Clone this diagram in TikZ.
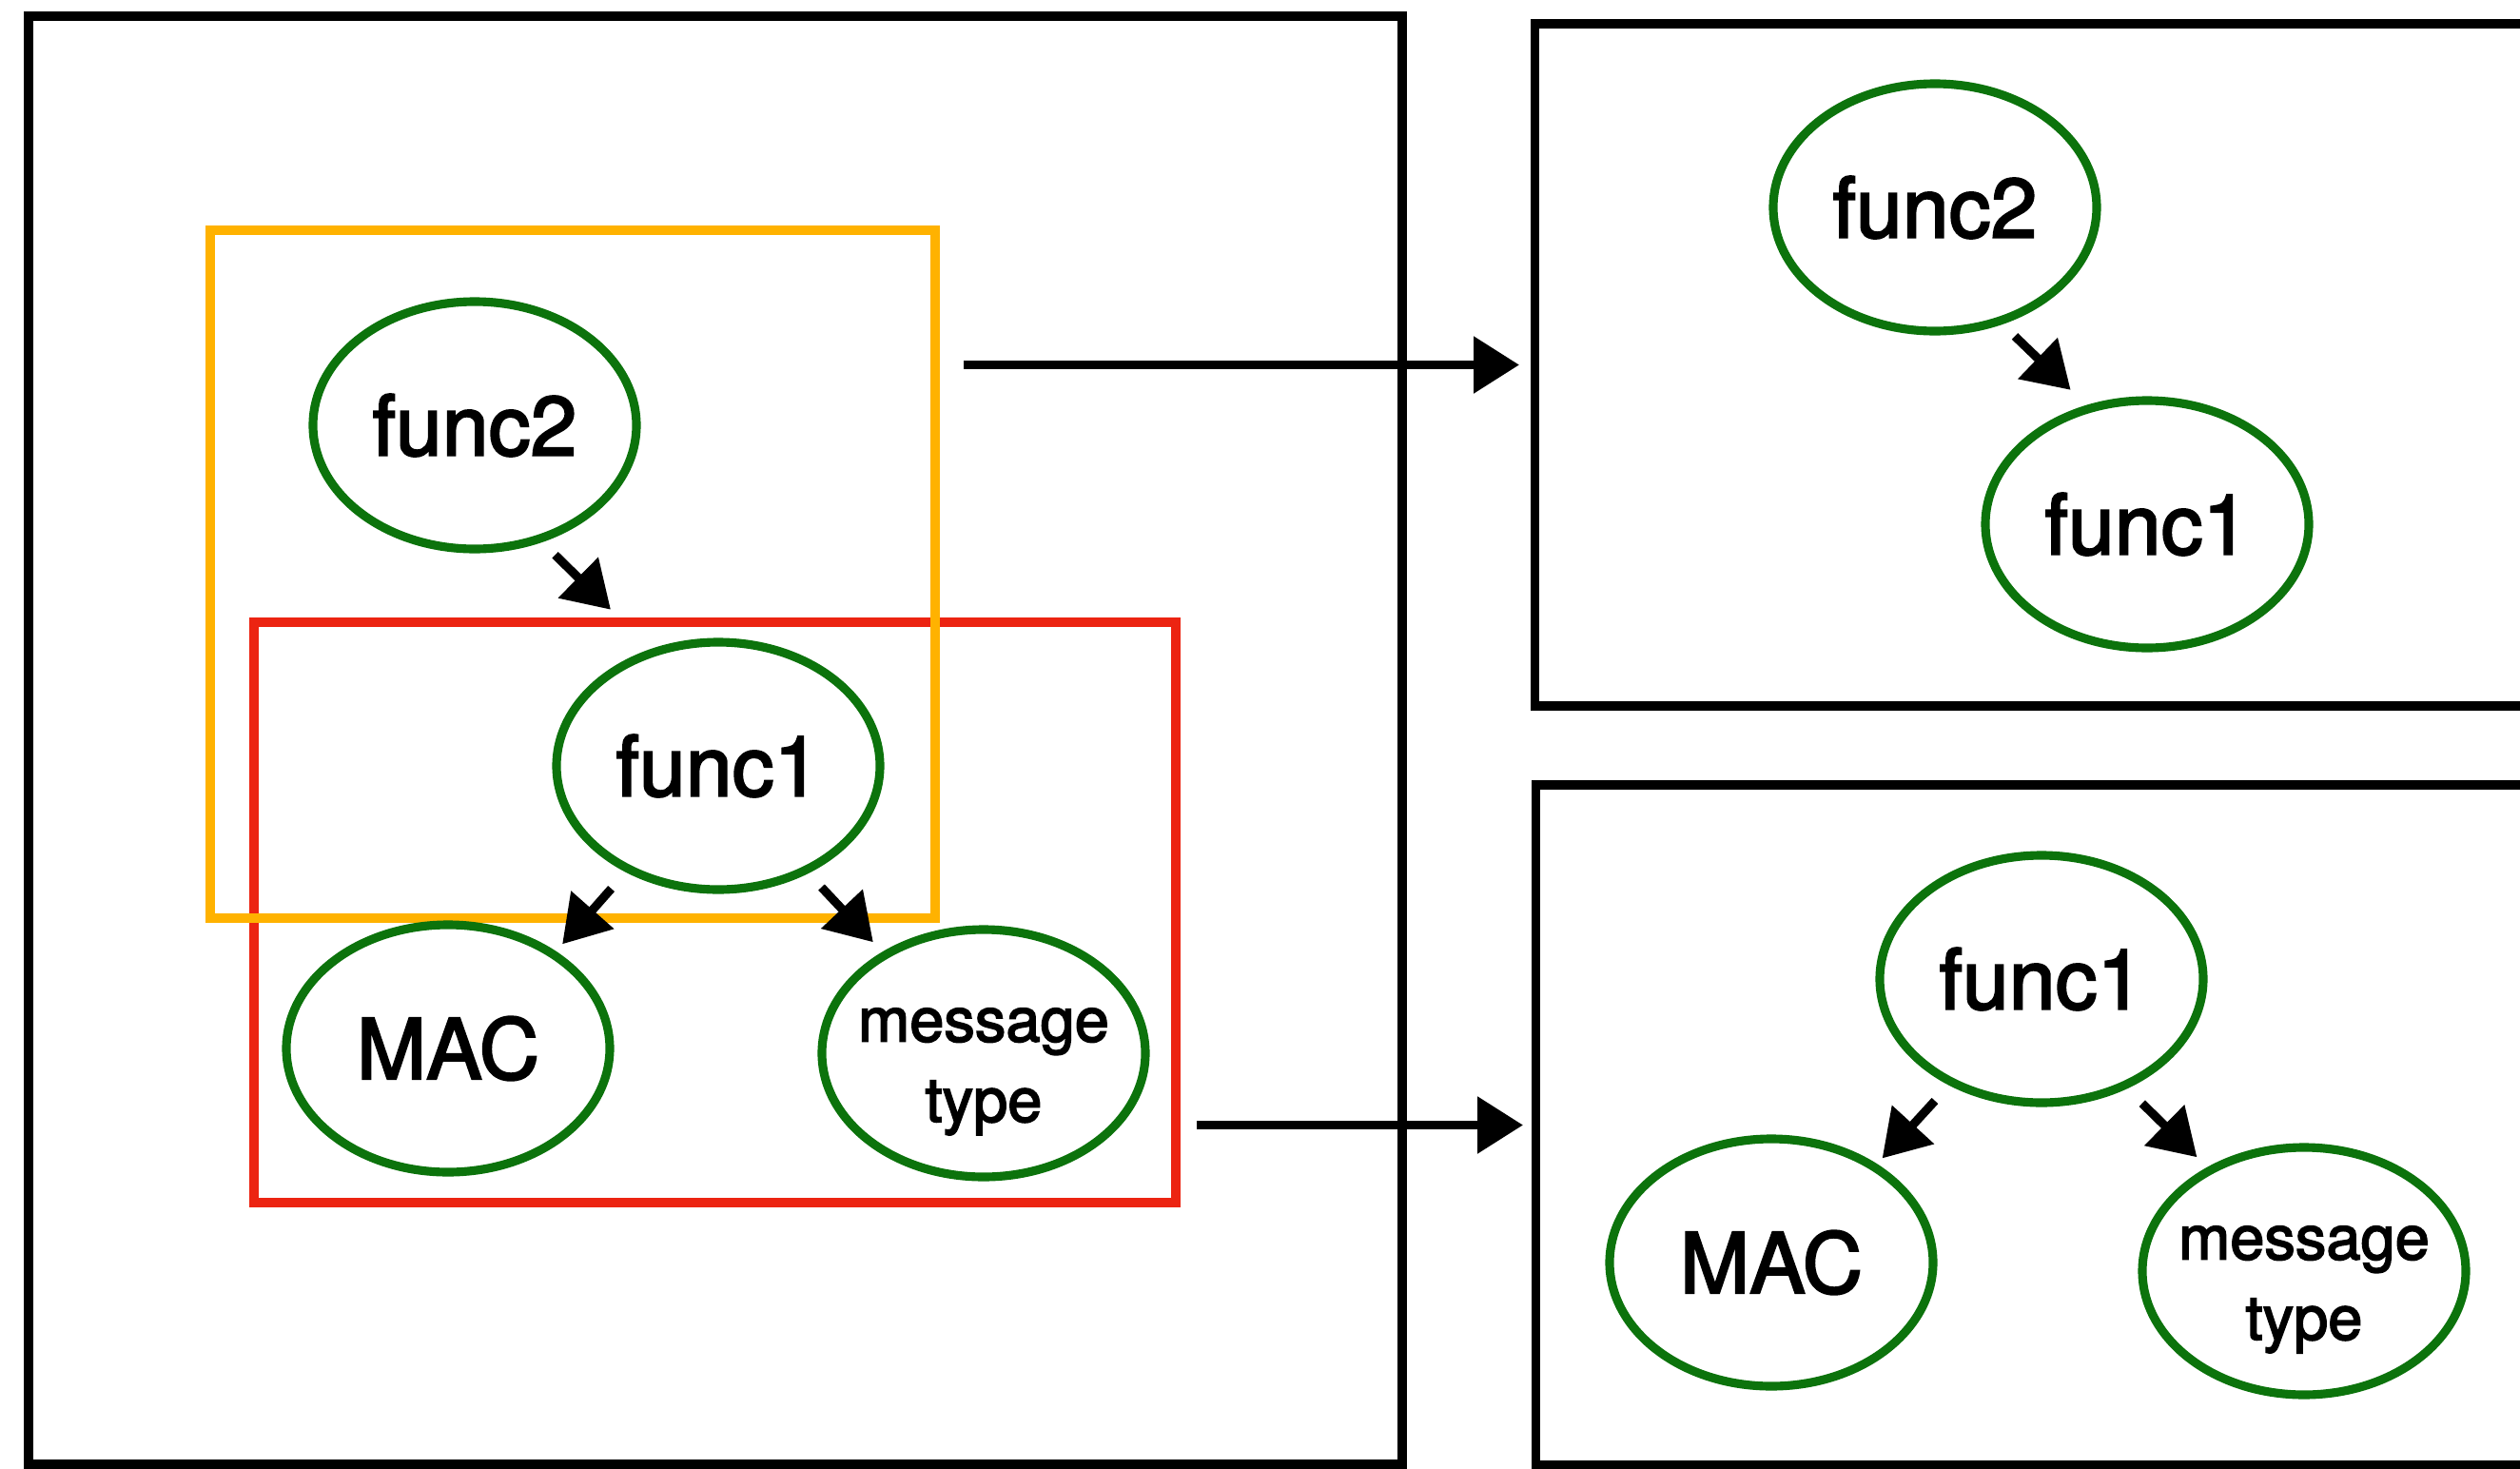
\documentclass[tikz,border=0pt]{standalone}
\usepackage{fontspec}
\setmainfont{TeX Gyre Heros}[FakeBold=2.5]
\usepackage{tikz}
\usetikzlibrary{arrows.meta}
\usetikzlibrary{shapes.geometric}

\definecolor{fgreen}{RGB}{12,115,12}
\definecolor{forange}{RGB}{255,178,0}
\definecolor{fred}{RGB}{236,36,18}

\begin{document}
\begin{tikzpicture}[
    func/.style={ellipse, draw=fgreen, line width=2.6pt, minimum width=3.4cm,
                 minimum height=2.6cm, inner sep=0pt, font=\fontsize{25}{30}\selectfont},
    msg/.style={func, inner xsep=-3mm, font=\fontsize{18.5}{24}\selectfont, align=center},
    frame/.style={draw, line width=2.6pt, inner sep=0pt},
    >={Triangle[length=4.8mm, width=5.8mm]}, line width=2.6pt]
              \useasboundingbox (0, 0) rectangle (26.49, -15.44);

              \node[frame, minimum width=14.44cm, minimum height=15.22cm] (left) at (7.52, -7.78) {};
              \node[frame, anchor=west, minimum width=11cm, minimum height=7.17cm] (rtop) at (16.09, -3.835) {};
              \node[frame, anchor=west, minimum width=11cm, minimum height=7.15cm] (rbot) at (16.10, -11.825) {};
              \node[frame, draw=fred, line width=2.8pt, minimum width=9.69cm, minimum height=6.10cm] (red) at (7.515, -9.59) {};
              \node[frame, draw=forange, line width=2.8pt, minimum width=7.62cm, minimum height=7.23cm] (orange) at (6.02, -6.035) {};

              \node[func] (f2L) at (4.99, -4.47) {func2};
              \node[func] (f1L) at (7.55, -8.05) {func1};
              \node[func] (macL) at (4.71, -11.02) {MAC};
              \node[msg] (msgL) at (10.34, -11.07) {\rule{0pt}{21pt}message\\type};

              \draw[->, shorten <=1.9mm, shorten >=5.9mm] (f2L.-60.5) to (f1L.120.3);
              \draw[->, shorten <=2.3mm, shorten >=1mm] (f1L.-131.6) to (macL.42.9);
              \draw[->, shorten <=2mm, shorten >=1.4mm] (f1L.-50.9) to (msgL.135.7);

              \node[func] (f2R) at (20.34, -2.18) {func2};
              \node[func] (f1R) at (22.57, -5.51) {func1};

              \draw[->, shorten <=1.8mm, shorten >=2.3mm] (f2R.-60.3) to (f1R.117.1);

              \node[func] (f1B) at (21.46, -10.29) {func1};
              \node[func] (macB) at (18.62, -13.27) {MAC};
              \node[msg] (msgB) at (24.22, -13.36) {\rule{0pt}{21pt}message\\type};

              \draw[->, shorten <=2.2mm, shorten >=0.8mm] (f1B.-131.1) to (macB.43.8);
              \draw[->, shorten <=2.2mm, shorten >=1.5mm] (f1B.-52.1) to (msgB.133);

              \draw[->, shorten <=2.5mm, shorten >=1.2mm] (orange.east |- rtop.west) to (rtop.west);
              \draw[->, shorten <=1.7mm, shorten >=0.9mm] (red.east |- rbot.west) to (rbot.west);
            \end{tikzpicture}
\end{document}
